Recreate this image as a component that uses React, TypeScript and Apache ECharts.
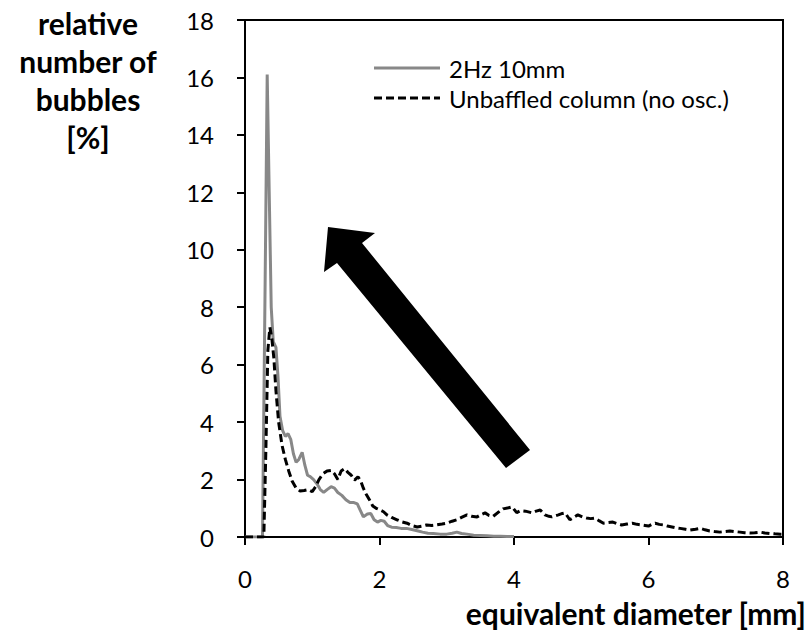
import React, { useEffect, useRef } from "react";
import * as echarts from "echarts";

const seriesNames = ["2Hz 10mm", "Unbaffled column (no osc.)"];

const xTicks = [0, 2, 4, 6, 8];
const yTicks = [0, 2, 4, 6, 8, 10, 12, 14, 16, 18];

const osc2HzX = [
  0, 0.1, 0.2, 0.26, 0.3, 0.33, 0.36, 0.39, 0.42, 0.46, 0.49, 0.52, 0.56, 0.6, 0.64, 0.68, 0.72, 0.76, 0.8,
  0.85, 0.89, 0.93, 0.97, 1.02, 1.07, 1.12, 1.17, 1.22, 1.28, 1.33, 1.38, 1.44, 1.5, 1.56, 1.62, 1.67, 1.72,
  1.76, 1.82, 1.87, 1.92, 1.97, 2.02, 2.07, 2.12, 2.18, 2.25, 2.32, 2.4, 2.48, 2.56, 2.64, 2.72, 2.8, 2.9, 3.0,
  3.08, 3.15, 3.22, 3.3, 3.4, 3.5, 3.6, 3.7, 3.8, 3.9, 4.0,
];
const osc2HzY = [
  0, 0, 0, 0, 9, 16.1, 12, 8, 6.8, 6.6, 5.6, 4.2, 3.7, 3.5, 3.6, 3.4, 2.9, 2.6, 2.7,
  2.95, 2.5, 2.15, 2.1, 2.0, 1.85, 1.65, 1.55, 1.65, 1.75, 1.7, 1.55, 1.45, 1.3, 1.2, 1.2, 1.15, 0.9,
  0.7, 0.8, 0.82, 0.6, 0.52, 0.58, 0.55, 0.4, 0.34, 0.33, 0.3, 0.3, 0.26, 0.22, 0.17, 0.13, 0.12, 0.1, 0.1,
  0.13, 0.17, 0.12, 0.1, 0.06, 0.05, 0.04, 0.03, 0.03, 0.02, 0.02,
];

const unbaffledX = [
  0, 0.1, 0.2, 0.28, 0.31, 0.34, 0.37, 0.4, 0.43, 0.46, 0.5, 0.55, 0.6, 0.65, 0.7, 0.76, 0.82, 0.88, 0.94, 1.0,
  1.05, 1.1, 1.16, 1.22, 1.28, 1.33, 1.38, 1.43, 1.48, 1.53, 1.58, 1.63, 1.68, 1.72, 1.76, 1.8, 1.85, 1.9, 1.95,
  2.0, 2.06, 2.11, 2.18, 2.26, 2.33, 2.41, 2.48, 2.56, 2.63, 2.7, 2.78, 2.85, 2.93, 3.0, 3.08, 3.15, 3.22, 3.3,
  3.37, 3.45, 3.51, 3.57, 3.63, 3.69, 3.76, 3.84, 3.92, 3.97, 4.04, 4.1, 4.17, 4.27, 4.33, 4.39, 4.46, 4.52,
  4.56, 4.62, 4.66, 4.72, 4.76, 4.83, 4.9, 4.95, 5.02, 5.08, 5.14, 5.2, 5.27, 5.33, 5.4, 5.47, 5.54, 5.6, 5.68,
  5.76, 5.83, 5.9, 5.95, 6.0, 6.05, 6.1, 6.16, 6.22, 6.28, 6.35, 6.41, 6.47, 6.55, 6.62, 6.7, 6.77, 6.84, 6.91,
  6.98, 7.06, 7.13, 7.21, 7.28, 7.36, 7.43, 7.51, 7.58, 7.66, 7.73, 7.81, 7.88, 7.96, 8.0,
];
const unbaffledY = [
  0, 0, 0, 0, 3, 6.5, 7.3, 6.9, 6.2, 5.1, 4.0, 3.2, 2.7, 2.3, 1.95, 1.7, 1.6, 1.62, 1.65, 1.58,
  1.75, 2.0, 2.2, 2.3, 2.32, 2.2, 2.0, 2.3, 2.38, 2.25, 2.15, 1.98, 2.1, 1.95, 1.7, 1.5, 1.3, 1.08, 1.0,
  0.95, 0.88, 0.77, 0.68, 0.6, 0.53, 0.48, 0.4, 0.35, 0.38, 0.42, 0.4, 0.42, 0.45, 0.48, 0.55, 0.6, 0.68, 0.77,
  0.72, 0.7, 0.78, 0.84, 0.75, 0.72, 0.85, 0.98, 1.02, 1.05, 0.85, 0.92, 0.9, 0.84, 0.9, 0.94, 0.77, 0.72,
  0.7, 0.74, 0.77, 0.82, 0.84, 0.6, 0.7, 0.77, 0.7, 0.66, 0.64, 0.66, 0.56, 0.48, 0.5, 0.52, 0.46, 0.42, 0.45,
  0.48, 0.44, 0.42, 0.4, 0.38, 0.44, 0.48, 0.44, 0.42, 0.38, 0.35, 0.32, 0.3, 0.27, 0.24, 0.27, 0.3, 0.25, 0.21,
  0.19, 0.17, 0.19, 0.21, 0.19, 0.17, 0.15, 0.14, 0.15, 0.17, 0.14, 0.12, 0.11, 0.1, 0.1,
];

const FONT = "Lato, 'Open Sans', sans-serif";
const GREY = "#888888";
const DASH = [8, 4];

export default function App() {
  const ref = useRef<HTMLDivElement>(null);
  useEffect(() => {
    if (!ref.current) return;
    const chart = echarts.init(ref.current, undefined, { renderer: "svg" });
    const pair = (xs: number[], ys: number[]) => xs.map((x, i) => [x, ys[i]]);
    chart.setOption({
      animation: false,
      backgroundColor: "#fff",
      textStyle: { fontFamily: FONT },
      grid: {
        left: 245,
        top: 20,
        right: 25,
        bottom: 102,
        show: true,
        borderColor: "#000",
        borderWidth: 2,
        containLabel: false,
      },
      xAxis: {
        type: "value",
        min: xTicks[0],
        max: xTicks[xTicks.length - 1],
        interval: 2,
        axisLine: { show: true, lineStyle: { color: "#000", width: 2 } },
        axisTick: { show: true, inside: false, length: 8, lineStyle: { color: "#000", width: 2 } },
        axisLabel: { fontFamily: FONT, fontSize: 24, color: "#000", margin: 29 },
        splitLine: { show: false },
      },
      yAxis: {
        type: "value",
        min: yTicks[0],
        max: yTicks[yTicks.length - 1],
        interval: 2,
        axisLine: { show: true, lineStyle: { color: "#000", width: 2 } },
        axisTick: { show: true, inside: false, length: 8, lineStyle: { color: "#000", width: 2 } },
        axisLabel: { fontFamily: FONT, fontSize: 24, color: "#000", margin: 31 },
        splitLine: { show: false },
      },
      series: [
        {
          name: seriesNames[0],
          type: "line",
          data: pair(osc2HzX, osc2HzY),
          showSymbol: false,
          symbol: "none",
          color: GREY,
          lineStyle: { color: GREY, width: 3 },
          z: 3,
        },
        {
          name: seriesNames[1],
          type: "line",
          data: pair(unbaffledX, unbaffledY),
          showSymbol: false,
          symbol: "none",
          color: "#000",
          lineStyle: { color: "#000", width: 3, type: DASH },
          z: 4,
        },
      ],
      graphic: [
        {
          type: "text",
          style: {
            text: "relative\nnumber of\nbubbles\n[%]",
            x: 88,
            y: 4,
            textAlign: "center",
            textVerticalAlign: "top",
            font: `bold 30px ${FONT}`,
            lineHeight: 38,
            fill: "#000",
          },
        },
        {
          type: "text",
          style: {
            text: "equivalent diameter [mm]",
            x: 806,
            y: 613,
            textAlign: "right",
            textVerticalAlign: "middle",
            font: `bold 30px ${FONT}`,
            fill: "#000",
          },
        },
        {
          type: "line",
          shape: { x1: 374, y1: 68, x2: 440, y2: 68 },
          style: { stroke: GREY, lineWidth: 3 },
        },
        {
          type: "text",
          style: {
            text: seriesNames[0],
            x: 449,
            y: 68,
            textVerticalAlign: "middle",
            font: `24px ${FONT}`,
            fill: "#000",
          },
        },
        {
          type: "line",
          shape: { x1: 374, y1: 98, x2: 440, y2: 98 },
          style: { stroke: "#000", lineWidth: 3, lineDash: DASH },
        },
        {
          type: "text",
          style: {
            text: seriesNames[1],
            x: 449,
            y: 98,
            textVerticalAlign: "middle",
            font: `24px ${FONT}`,
            fill: "#000",
          },
        },
        {
          type: "polygon",
          z: 10,
          shape: {
            points: [
              [328, 227],
              [375, 233],
              [362, 243],
              [530, 450],
              [506, 468],
              [337, 263],
              [324, 272],
            ],
          },
          style: { fill: "#000" },
        },
      ],
    });
    return () => chart.dispose();
  }, []);
  return (
    <div
      ref={ref}
      style={{ position: "fixed", left: 0, top: 0, width: 808, height: 639, background: "#fff" }}
    />
  );
}
